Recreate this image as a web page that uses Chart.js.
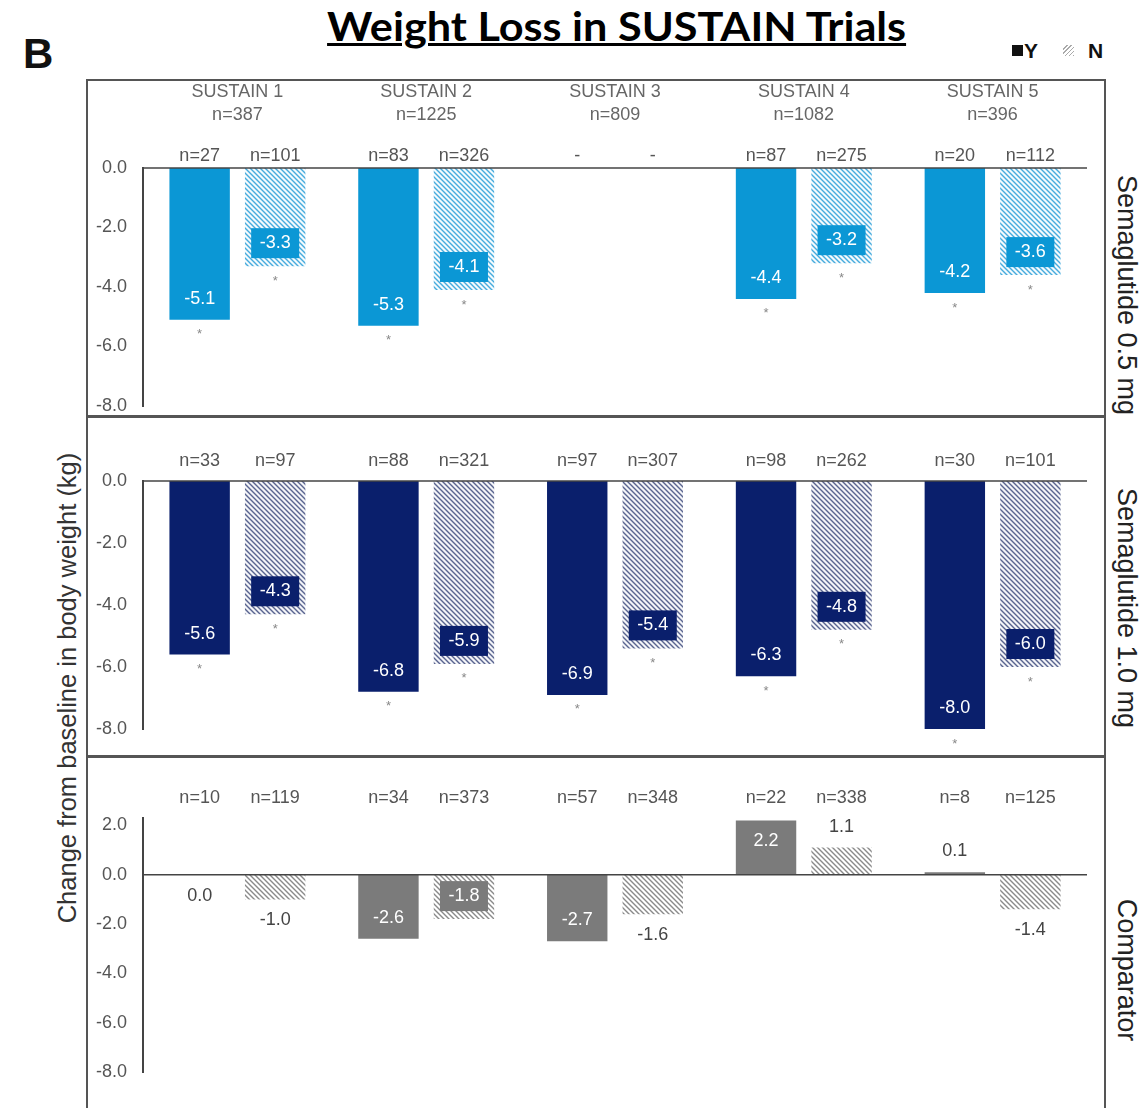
<!DOCTYPE html>
<html>
<head>
<meta charset="utf-8">
<script src="https://cdn.jsdelivr.net/npm/chart.js@4.4.1/dist/chart.umd.min.js"></script>
<style>
  body { margin: 0; width: 1142px; height: 1108px; background: #fff; position: relative; overflow: hidden;
         font-family: "Liberation Sans", Arial, sans-serif; }
  .abs { position: absolute; }
  #title { top: 5px; font-family: Lato, "Open Sans", sans-serif; font-weight: bold; font-size: 41px;
           line-height: 41px; text-decoration: underline; text-decoration-thickness: 3px; white-space: nowrap;
           color: #000; transform-origin: center; }
  #letter { left: 23px; top: 33px; font-size: 42px; line-height: 42px; font-weight: bold; color: #111; }
  #frame { left: 86px; top: 79px; width: 1020px; height: 1060px; border: 2px solid #555; box-sizing: border-box; }
  .sep { left: 86px; width: 1020px; height: 3px; background: #555; }
  .side { font-size: 27px; color: #222; white-space: nowrap; transform: translate(-50%, -50%) rotate(90deg); }
  #ytitle { left: 67px; top: 688px; font-size: 25.5px; color: #333; white-space: nowrap;
            transform: translate(-50%, -50%) rotate(-90deg); }
  .lg { font-size: 21px; font-weight: bold; color: #111; line-height: 22px; }
  .sq { width: 11px; height: 11px; }
  canvas { position: absolute; left: 87px; }
</style>
</head>
<body>
<div id="title" class="abs">Weight Loss in SUSTAIN Trials</div>
<div id="letter" class="abs">B</div>

<div class="abs sq" style="left:1012px; top:45px; background:#111"></div>
<div class="abs lg" style="left:1024px; top:40px">Y</div>
<div class="abs sq" style="left:1063px; top:45px; background:repeating-linear-gradient(-45deg,#aaa 0 1px,#fff 1px 3px)"></div>
<div class="abs lg" style="left:1088px; top:40px">N</div>

<div id="frame" class="abs"></div>
<div class="abs sep" style="top:415px"></div>
<div class="abs sep" style="top:755px"></div>

<canvas id="p1" width="1018" height="356" style="top:80px"></canvas>
<canvas id="p2" width="1018" height="341" style="top:416px"></canvas>
<canvas id="p3" width="1018" height="351" style="top:757px"></canvas>

<div class="abs side" style="left:1126px; top:295px">Semaglutide 0.5 mg</div>
<div class="abs side" style="left:1126px; top:608px">Semaglutide 1.0 mg</div>
<div class="abs side" style="left:1126px; top:970px">Comparator</div>
<div id="ytitle" class="abs">Change from baseline in body weight (kg)</div>

<script>
const FONT = '"Liberation Sans", Arial, sans-serif';

const trials = ['SUSTAIN 1', 'SUSTAIN 2', 'SUSTAIN 3', 'SUSTAIN 4', 'SUSTAIN 5'];
const trialN = ['n=387', 'n=1225', 'n=809', 'n=1082', 'n=396'];

// Semaglutide 0.5 mg
const sema05Y = [-5.1, -5.3, null, -4.4, -4.2];
const sema05N = [-3.3, -4.1, null, -3.2, -3.6];
const sema05nY = ['n=27', 'n=83', '-', 'n=87', 'n=20'];
const sema05nN = ['n=101', 'n=326', '-', 'n=275', 'n=112'];

// Semaglutide 1.0 mg
const sema10Y = [-5.6, -6.8, -6.9, -6.3, -8.0];
const sema10N = [-4.3, -5.9, -5.4, -4.8, -6.0];
const sema10nY = ['n=33', 'n=88', 'n=97', 'n=98', 'n=30'];
const sema10nN = ['n=97', 'n=321', 'n=307', 'n=262', 'n=101'];

// Comparator
const compY = [0.0, -2.6, -2.7, 2.2, 0.1];
const compN = [-1.0, -1.8, -1.6, 1.1, -1.4];
const compnY = ['n=10', 'n=34', 'n=57', 'n=22', 'n=8'];
const compnN = ['n=119', 'n=373', 'n=348', 'n=338', 'n=125'];

const ticksSema = [-8, -6, -4, -2, 0];
const ticksComp = [-8, -6, -4, -2, 0, 2];

Chart.defaults.font.family = FONT;

// title: squeeze to the reference width
const title = document.getElementById('title');
const tw = title.getBoundingClientRect().width;
title.style.left = (617 - tw / 2) + 'px';
title.style.transform = 'scaleX(' + (579 / tw) + ')';

function hatch(stripe, bg) {
    const s = 5;
    const c = document.createElement('canvas');
    c.width = s; c.height = s;
    const x = c.getContext('2d');
    x.fillStyle = bg;
    x.fillRect(0, 0, s, s);
    x.strokeStyle = stripe;
    x.lineWidth = 1.4;
    x.beginPath();
    x.moveTo(-1, -1); x.lineTo(s + 1, s + 1);
    x.moveTo(-1, s - 1); x.lineTo(1, s + 1);
    x.moveTo(s - 1, -1); x.lineTo(s + 1, 1);
    x.stroke();
    return x.createPattern(c, 'repeat');
}

function labelsPlugin(p) {
    return {
        id: 'valueLabels',
        afterDatasetsDraw(chart) {
            const { ctx, chartArea, scales } = chart;
            const y0 = scales.y.getPixelForValue(0);
            ctx.save();
            ctx.strokeStyle = '#444';
            ctx.lineWidth = 1.5;
            ctx.beginPath();
            ctx.moveTo(chartArea.left, y0);
            ctx.lineTo(chartArea.right, y0);
            ctx.stroke();

            ctx.textAlign = 'center';
            ctx.textBaseline = 'middle';

            if (p.headers) {
                ctx.font = '18px ' + FONT;
                ctx.fillStyle = '#666';
                trials.forEach((t, j) => {
                    const x = scales.x.getPixelForValue(j);
                    ctx.fillText(t, x, 12);
                    ctx.fillText(trialN[j], x, 35);
                });
            }

            chart.data.datasets.forEach((ds, di) => {
                const meta = chart.getDatasetMeta(di);
                meta.data.forEach((bar, j) => {
                    const v = ds.data[j];
                    ctx.font = '18px ' + FONT;
                    ctx.fillStyle = '#555';
                    ctx.fillText(ds.nLabels[j], bar.x, chartArea.top - p.nGap);
                    if (v == null) return;

                    const up = v > 0;
                    const h = Math.abs(bar.y - bar.base);
                    const dir = up ? -1 : 1;
                    const txt = v.toFixed(1);

                    if (di === 0 && h >= 40) {
                        ctx.fillStyle = '#fff';
                        ctx.fillText(txt, bar.x, bar.y - dir * 21);
                    } else if (di === 1 && h >= 42) {
                        const cy = bar.y - dir * 23;
                        ctx.fillStyle = p.solid;
                        ctx.fillRect(bar.x - 24, cy - 15, 48, 30);
                        ctx.fillStyle = '#fff';
                        ctx.fillText(txt, bar.x, cy);
                    } else {
                        ctx.fillStyle = '#444';
                        ctx.fillText(txt, bar.x, bar.y + dir * 21);
                    }

                    if (p.stars) {
                        ctx.font = '13px ' + FONT;
                        ctx.fillStyle = '#888';
                        ctx.fillText('*', bar.x, bar.y + dir * 15);
                    }
                });
            });
            ctx.restore();
        }
    };
}

function buildPanel(id, p) {
    return new Chart(document.getElementById(id), {
        type: 'bar',
        data: {
            labels: trials,
            datasets: [
                { label: 'Y', data: p.y, nLabels: p.nY, backgroundColor: p.solid,
                  borderWidth: 0, categoryPercentage: 0.8, barPercentage: 0.8 },
                { label: 'N', data: p.n, nLabels: p.nN, backgroundColor: hatch(p.stripe, p.bg),
                  borderWidth: 0, categoryPercentage: 0.8, barPercentage: 0.8 }
            ]
        },
        options: {
            responsive: false,
            animation: false,
            devicePixelRatio: 1,
            layout: { padding: { top: p.top, bottom: p.bottom, left: 0, right: 18 } },
            plugins: { legend: { display: false }, tooltip: { enabled: false } },
            scales: {
                x: { display: false },
                y: {
                    min: p.min,
                    max: p.max,
                    afterBuildTicks: s => { s.ticks = p.ticks.map(v => ({ value: v })); },
                    afterFit: s => { s.width = 56; },
                    grid: { display: false, drawTicks: false },
                    border: { display: true, color: '#444', width: 2 },
                    ticks: { padding: 16, color: '#555', font: { size: 18 }, callback: v => v.toFixed(1) }
                }
            }
        },
        plugins: [labelsPlugin(p)]
    });
}

buildPanel('p1', {
    y: sema05Y, n: sema05N, nY: sema05nY, nN: sema05nN,
    solid: '#0b97d5', stripe: '#46abdd', bg: '#f4fafd',
    min: -8, max: 0, ticks: ticksSema, top: 88, bottom: 30,
    nGap: 12, stars: true, headers: true
});

buildPanel('p2', {
    y: sema10Y, n: sema10N, nY: sema10nY, nN: sema10nN,
    solid: '#0a1f6c', stripe: '#59648f', bg: '#f3f4f8',
    min: -8, max: 0, ticks: ticksSema, top: 65, bottom: 28,
    nGap: 20, stars: true, headers: false
});

buildPanel('p3', {
    y: compY, n: compN, nY: compnY, nN: compnN,
    solid: '#7b7b7b', stripe: '#8a8a8a', bg: '#ffffff',
    min: -8, max: 2.3, ticks: ticksComp, top: 61, bottom: 36,
    nGap: 20, stars: false, headers: false
});
</script>
</body>
</html>
